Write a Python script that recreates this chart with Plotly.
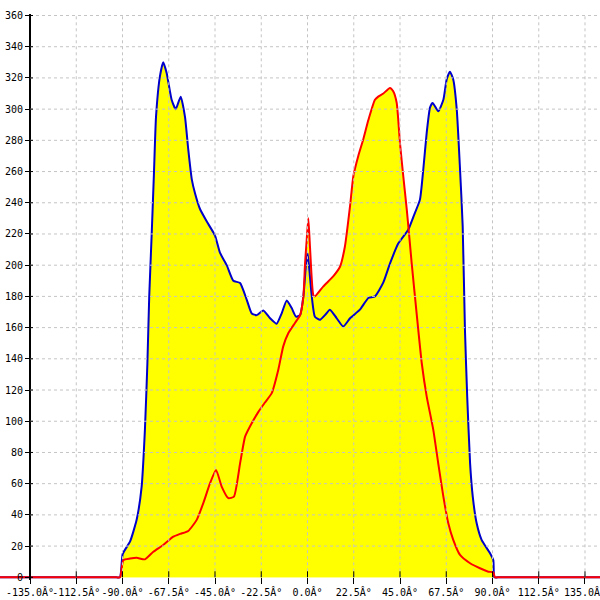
import plotly.graph_objects as go

# ---- data ----
blue_x = [-150, -93.0, -91.2, -89.9, -86.3, -83.1, -80.7, -79.1, -77.9, -77.0, -75.8, -74.7, -73.7,
          -71.8, -70.2, -68.5, -66.1, -64.1, -61.7, -59.6, -58.0, -56.3, -54.7, -52.3, -49.0,
          -45.0, -42.6, -39.3, -36.1, -32.8, -29.6, -27.1, -24.7, -21.5, -18.2, -15.0, -12.6,
          -10.1, -7.7, -5.6, -3.6, -2.0, -0.7, 0.0, 0.7, 2.0, 3.6, 6.1, 8.5, 10.9, 14.2, 17.4,
          20.7, 25.5, 29.6, 32.8, 36.9, 40.1, 44.2, 49.0, 51.5, 54.7, 56.3, 58.0, 59.6, 60.9,
          63.6, 66.1, 67.7, 69.3, 70.9, 72.6, 74.2, 75.5, 76.6, 77.7, 79.1, 80.4, 82.3, 84.7,
          88.8, 90.4, 90.9, 92.7, 150]
blue_y = [0, 0, 0, 15, 23, 37, 58, 94.5, 137, 180, 220, 259, 295,
          321, 330, 323, 306, 300, 308, 295, 274, 255, 246, 236, 228,
          219, 208, 200, 190, 188.6, 178, 169, 168, 171, 166, 162.5, 169,
          177.4, 172.5, 167, 168, 180, 201, 208, 200, 181, 167, 165, 168, 171.5, 166, 160.7,
          166, 171.5, 179, 180, 189, 201, 214, 222.7, 231, 242, 261, 285, 301, 304,
          298.6, 306, 319, 324, 319, 300, 261.5, 225, 158.6, 115.8, 73, 51.7, 34.6, 24,
          15.4, 11, 0, 0, 0]

red_x = [-150, -93.0, -91.2, -89.6, -86.3, -83.1, -79.1, -75.0, -70.2, -65.3, -62.0, -58.0, -53.9,
         -50.7, -47.4, -44.5, -41.7, -38.5, -35.8, -32.8, -30.4, -28.0, -23.9, -20.7, -17.4,
         -14.2, -11.8, -9.3, -6.1, -3.6, -2.0, -1.2, -0.4, 0.4, 1.2, 2.8, 3.6, 7.7, 12.6, 15.8,
         18.2, 20.7, 22.3, 24.7, 27.1, 29.6, 32.8, 34.4, 36.9, 40.1, 41.7, 43.4, 45.0, 46.6,
         48.3, 49.5, 50.7, 53.1, 55.6, 58.0, 61.2, 63.6, 66.1, 68.5, 70.9, 74.2, 79.1, 83.9,
         88.0, 90.4, 91.2, 93.0, 150]
red_y = [0, 0, 0, 11, 12, 12.5, 11.5, 16.4, 20.7, 26, 27.8, 29.7, 36.8,
         47.5, 60.3, 68.8, 58, 50.7, 51.7, 73, 90, 96.6, 106, 112, 118,
         133, 148, 156.5, 163, 168, 180, 201, 216, 230, 212, 181, 180, 186.4, 193, 199,
         212, 238, 257, 270, 280.5, 293, 306, 308, 310, 313.6, 311.5, 304, 278, 257,
         235.6, 218.5, 201, 169, 137, 115.8, 94.5, 73, 51.7, 34.6, 24, 14.3, 9, 5.8,
         3.6, 3.2, 0, 0, 0]

x_ticks = [-135.0, -112.5, -90.0, -67.5, -45.0, -22.5, 0.0, 22.5, 45.0, 67.5, 90.0, 112.5, 135.0]
x_tick_text = [f"{v:.1f}\u00c2\u00b0" for v in x_ticks]
y_ticks = list(range(0, 361, 20))
y_tick_text = [str(v) for v in y_ticks]

# ---- layout geometry ----
X_MIN, X_MAX = -149.6, 142.3
Y_MIN, Y_MAX = -1.73, 360.96
FILL = "#FFFF00"
BLUE = "#0000CC"
RED = "#FF0000"
GRID = "#C4C4C4"
FONT = dict(family="DejaVu Sans Mono", size=10, color="#000000")

fig = go.Figure()
for xs, ys in ((blue_x, blue_y), (red_x, red_y)):
    fig.add_trace(go.Scatter(x=xs, y=ys, mode="lines", fill="tozeroy", fillcolor=FILL,
                             line=dict(width=0, shape="spline", smoothing=0.5), hoverinfo="skip"))
fig.add_trace(go.Scatter(x=blue_x, y=blue_y, mode="lines",
                         line=dict(color=BLUE, width=2, shape="spline", smoothing=0.5)))
fig.add_trace(go.Scatter(x=red_x, y=red_y, mode="lines",
                         line=dict(color=RED, width=2, shape="spline", smoothing=0.5)))

shapes = []
# dashed grid
for v in x_ticks[1:]:
    shapes.append(dict(type="line", xref="x", yref="y", x0=v, x1=v, y0=0, y1=y_ticks[-1],
                       line=dict(color=GRID, width=1, dash="3px,3px"), layer="above"))
for v in y_ticks[1:]:
    shapes.append(dict(type="line", xref="x", yref="y", x0=x_ticks[0], x1=X_MAX, y0=v, y1=v,
                       line=dict(color=GRID, width=1, dash="3px,3px"), layer="above"))
# inner halves of the tick marks (ticks cross the axes)
for v in x_ticks:
    shapes.append(dict(type="line", xref="x", yref="y", x0=v, x1=v,
                       ysizemode="pixel", yanchor=0, y0=0, y1=6,
                       line=dict(color="#000000", width=1), layer="above"))
for v in y_ticks:
    shapes.append(dict(type="line", xref="x", yref="y", y0=v, y1=v,
                       xsizemode="pixel", xanchor=x_ticks[0], x0=0, x1=3,
                       line=dict(color="#000000", width=1), layer="above"))

fig.update_layout(
    width=600, height=600,
    margin=dict(l=0, r=0, t=14, b=20),
    paper_bgcolor="white", plot_bgcolor="white",
    showlegend=False,
    shapes=shapes,
    font=FONT,
    xaxis=dict(range=[X_MIN, X_MAX], tickmode="array", tickvals=x_ticks, ticktext=x_tick_text,
               showgrid=False, zeroline=False, showline=False,
               ticks="outside", ticklen=6, tickcolor="#000000", tickwidth=1, tickangle=0,
               anchor="free", position=(0 - Y_MIN) / (Y_MAX - Y_MIN), automargin=False,
               ticklabeloverflow="allow", layer="above traces",
               tickfont=FONT),
    yaxis=dict(range=[Y_MIN, Y_MAX], tickmode="array", tickvals=y_ticks, ticktext=y_tick_text,
               showgrid=False, zeroline=False, showline=True, linecolor="#000000", linewidth=2,
               ticks="outside", ticklen=4, tickcolor="#000000", tickwidth=1,
               anchor="free", position=(x_ticks[0] - X_MIN) / (X_MAX - X_MIN), automargin=False,
               ticklabeloverflow="allow",
               tickfont=FONT),
)

fig.write_html("out.html",
               config={"displayModeBar": False},
               post_script="document.body.style.margin='0';document.body.style.padding='0';"
                           "document.body.style.overflow='hidden';")
